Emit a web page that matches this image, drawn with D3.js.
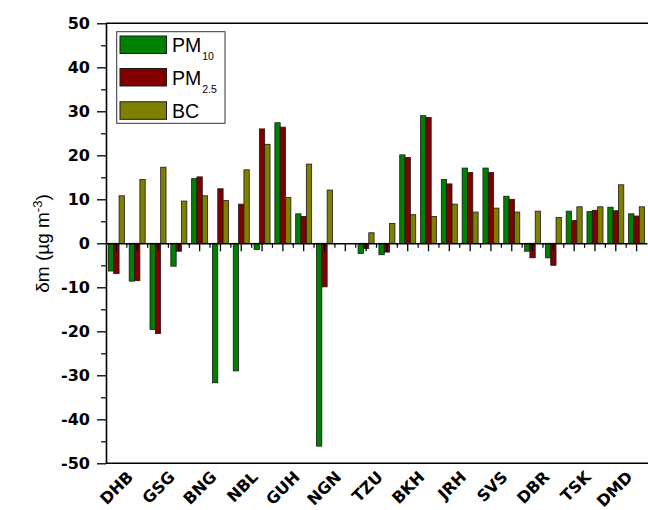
<!DOCTYPE html>
<html>
<head>
<meta charset="utf-8">
<script src="https://cdn.jsdelivr.net/npm/d3@7/dist/d3.min.js"></script>
<style>
  html, body { margin: 0; padding: 0; background: #fff; }
  svg { display: block; }
</style>
</head>
<body>
<script>
// Station labels, shown under every other bar group
const tickLabels = ["", "DHB", "", "GSG", "", "BNG", "", "NBL", "", "GUH", "", "NGN", "",
                    "TZU", "", "BKH", "", "JRH", "", "SVS", "", "DBR", "", "TSK", "", "DMD"];
const seriesNames = ["PM10", "PM2.5", "BC"];
// δm values (µg m-3) per bar group; null = no data
const pm10 = [-6.3, -8.6, -19.6, -5.2, 14.7, -31.7, -29.0, -1.4, 27.4, 6.7, -46.1, null, -2.3,
              -2.6, 20.1, 29.0, 14.5, 17.1, 17.1, 10.7, -1.8, -3.3, 7.3, 7.2, 8.2, 6.7];
const pm25 = [-6.9, -8.5, -20.5, -1.8, 15.1, 12.4, 8.9, 26.0, 26.4, 6.1, -9.9, null, -1.2,
              -2.0, 19.5, 28.6, 13.5, 16.1, 16.1, 10.0, -3.3, -5.0, 5.2, 7.5, 7.4, 6.2];
const bc   = [10.8, 14.5, 17.3, 9.6, 10.8, 9.7, 16.7, 22.5, 10.4, 18.0, 12.1, null, 2.4,
              4.5, 6.5, 6.1, 8.9, 7.1, 8.0, 7.1, 7.3, 5.9, 8.3, 8.3, 13.3, 8.3];
const yTicks = [-50, -40, -30, -20, -10, 0, 10, 20, 30, 40, 50];

const colors = { "PM10": "#008000", "PM2.5": "#800000", "BC": "#808000" };
const values = { "PM10": pm10, "PM2.5": pm25, "BC": bc };

const W = 648, H = 510;
const plotLeft = 106, plotRight = 647, plotTop = 23.3, plotBottom = 463.3;

const svg = d3.select("body").append("svg").attr("width", W).attr("height", H);

const groups = d3.range(tickLabels.length);
const x0 = d3.scaleBand().domain(groups).range([plotLeft, plotRight]).padding(0);
const x1 = d3.scaleBand().domain(seriesNames).range([0, x0.bandwidth()])
  .paddingInner(0).paddingOuter(0.45);
const y = d3.scaleLinear().domain([-50, 50]).range([plotBottom, plotTop]);

// bars
const rows = [];
groups.forEach(i => seriesNames.forEach(s => {
  const v = values[s][i];
  if (v !== null) rows.push({ i, s, v });
}));
svg.append("g").selectAll("rect").data(rows).join("rect")
  .attr("x", d => x0(d.i) + x1(d.s))
  .attr("width", x1.bandwidth())
  .attr("y", d => y(Math.max(0, d.v)))
  .attr("height", d => Math.abs(y(d.v) - y(0)))
  .attr("fill", d => colors[d.s])
  .attr("stroke", "#1a1a1a")
  .attr("stroke-width", 0.8);

// frame
svg.append("line").attr("x1", plotLeft).attr("x2", W + 2).attr("y1", plotTop).attr("y2", plotTop)
  .attr("stroke", "#000").attr("stroke-width", 1.6);
svg.append("line").attr("x1", plotLeft).attr("x2", W + 2).attr("y1", plotBottom).attr("y2", plotBottom)
  .attr("stroke", "#000").attr("stroke-width", 1.6);

// y axis
const yAxis = svg.append("g").attr("transform", `translate(${plotLeft},0)`)
  .call(d3.axisLeft(y).tickValues(yTicks).tickSize(9).tickSizeOuter(0).tickPadding(7)
    .tickFormat(d => String(d)));
yAxis.select(".domain").attr("stroke-width", 1.6);
yAxis.selectAll(".tick line").attr("stroke-width", 1.3);
yAxis.selectAll(".tick text")
  .attr("font-family", "'DejaVu Sans', sans-serif")
  .attr("font-weight", "bold").attr("font-size", 16).attr("fill", "#000");
const yMinor = svg.append("g").attr("transform", `translate(${plotLeft},0)`)
  .call(d3.axisLeft(y).tickValues(d3.range(-45, 50, 10)).tickSize(5).tickFormat(""));
yMinor.select(".domain").remove();
yMinor.selectAll(".tick line").attr("stroke-width", 1.2);

// zero axis with ticks at group centres and boundaries
const xAxis = svg.append("g").attr("transform", `translate(0,${y(0)})`)
  .call(d3.axisBottom(x0).tickSize(8).tickSizeOuter(0).tickFormat(""));
xAxis.select(".domain").attr("stroke-width", 1.6);
xAxis.selectAll(".tick line").attr("stroke-width", 1.3);
svg.append("g").selectAll("line").data(groups.slice(1)).join("line")
  .attr("x1", i => x0(i)).attr("x2", i => x0(i))
  .attr("y1", y(0)).attr("y2", y(0) + 4.5)
  .attr("stroke", "#000").attr("stroke-width", 1.2);

// station labels
svg.append("g").selectAll("text")
  .data(groups.filter(i => tickLabels[i] !== ""))
  .join("text")
  .attr("transform", i => `translate(${x0(i) + x0.bandwidth() / 2 - 3},478) rotate(-45)`)
  .attr("text-anchor", "end")
  .attr("font-family", "'DejaVu Sans', sans-serif")
  .attr("font-weight", "bold").attr("font-size", 16)
  .text(i => tickLabels[i]);

// y title
const yt = svg.append("text")
  .attr("transform", "translate(49,243.5) rotate(-90)")
  .attr("text-anchor", "middle")
  .attr("font-family", "Arial, 'Liberation Sans', sans-serif")
  .attr("font-size", 19);
yt.append("tspan").text("δm (µg m");
yt.append("tspan").attr("dy", -7).attr("font-size", 13).text("-3");
yt.append("tspan").attr("dy", 7).text(")");

// legend
const lg = svg.append("g");
lg.append("rect").attr("x", 116.7).attr("y", 31.7).attr("width", 108.3).attr("height", 91.6)
  .attr("fill", "#fff").attr("stroke", "#333").attr("stroke-width", 1);
const legendItems = [
  { s: "PM10", main: "PM", sub: "10", y: 36 },
  { s: "PM2.5", main: "PM", sub: "2.5", y: 68.5 },
  { s: "BC", main: "BC", sub: "", y: 101.8 }
];
legendItems.forEach(d => {
  lg.append("rect").attr("x", 120).attr("y", d.y).attr("width", 46.5).attr("height", 17.5)
    .attr("fill", colors[d.s]).attr("stroke", "#1a1a1a").attr("stroke-width", 1);
  const t = lg.append("text").attr("x", 172).attr("y", d.y + 16)
    .attr("font-family", "Arial, 'Liberation Sans', sans-serif").attr("font-size", 19.5);
  t.append("tspan").text(d.main);
  if (d.sub) t.append("tspan").attr("dx", 1).attr("dy", 8).attr("font-size", 10.5).text(d.sub);
});
</script>
</body>
</html>
